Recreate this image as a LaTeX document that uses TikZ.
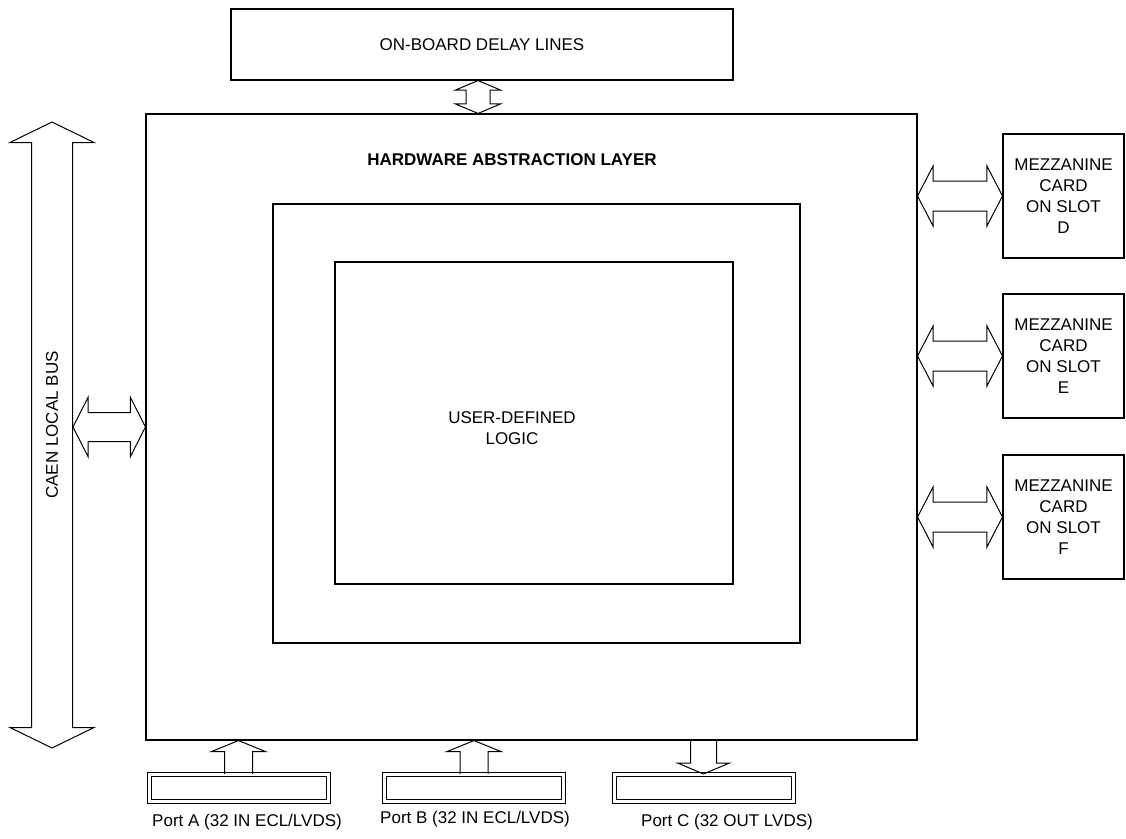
\documentclass[tikz,border=0pt]{standalone}
\usepackage{fontspec}
\setmainfont{Liberation Sans}
\usetikzlibrary{calc}
\usetikzlibrary{positioning}
\tikzset{box/.style = {draw, line width = 1.1, inner sep = 0}}
\tikzset{portbox/.style = {draw, double, double distance = 3, line width = 1,
                           inner sep = 0, minimum width = 179, minimum height = 27}}
\tikzset{txt/.style = {font = \fontsize{17}{21}\selectfont, align = center, inner sep = 0}}
\tikzset{blockarrow/.style = {draw, line width = 1, line join = miter}}
% hollow arrow with two heads: from, to, head length, half shaft, half head
\newcommand{\dblarrow}[5]{%
  \path (#1) coordinate (ap) (#2) coordinate (aq);
  \path ($(ap)!#3!(aq)$) coordinate (ap1) ($(aq)!#3!(ap)$) coordinate (aq1);
  \draw [blockarrow] (ap) -- ($(ap1)!#5!90:(aq)$) -- ($(ap1)!#4!90:(aq)$)
    -- ($(aq1)!#4!-90:(ap)$) -- ($(aq1)!#5!-90:(ap)$) -- (aq)
    -- ($(aq1)!#5!90:(ap)$) -- ($(aq1)!#4!90:(ap)$)
    -- ($(ap1)!#4!-90:(aq)$) -- ($(ap1)!#5!-90:(aq)$) -- cycle;}
% hollow arrow with one head
\newcommand{\sglarrow}[5]{%
  \path (#1) coordinate (ap) (#2) coordinate (aq);
  \path ($(aq)!#3!(ap)$) coordinate (aq1);
  \draw [blockarrow] ($(ap)!#4!90:(aq)$) -- ($(aq1)!#4!-90:(ap)$)
    -- ($(aq1)!#5!-90:(ap)$) -- (aq) -- ($(aq1)!#5!90:(ap)$)
    -- ($(aq1)!#4!90:(ap)$) -- ($(ap)!#4!-90:(aq)$);}

\begin{document}
\begin{tikzpicture}[x = 1pt, y = -1pt]
    \useasboundingbox (0, 0) rectangle (1126, 838);
    % boxes
    \node (delay) at (482, 44.5) [box, minimum width = 502, minimum height = 71] {};
    \node (delaytext) at (delay.center) [txt] {ON-BOARD DELAY LINES};
    \node (hal) at (531.5, 427) [box, minimum width = 771, minimum height = 626] {};
    \node (haltext) at (512, 160) [txt, font = \fontsize{17}{21}\selectfont\bfseries] {HARDWARE ABSTRACTION LAYER};
    \node (mid) at (536.5, 423.5) [box, minimum width = 527, minimum height = 439] {};
    \node (user) at (534, 423) [box, minimum width = 398, minimum height = 322] {};
    \node (usertext) at (512, 428) [txt] {USER-DEFINED\\LOGIC};
    \node (mezzD) at (1063.5, 196) [box, txt, draw, minimum width = 121, minimum height = 124] {MEZZANINE\\CARD\\ON SLOT\\D};
    \node (mezzE) at (1063.5, 356) [box, txt, draw, minimum width = 121, minimum height = 124] {MEZZANINE\\CARD\\ON SLOT\\E};
    \node (mezzF) at (1063.5, 517) [box, txt, draw, minimum width = 121, minimum height = 124] {MEZZANINE\\CARD\\ON SLOT\\F};
    % ports
    \node (portA) at (238.5, 788) [portbox] {};
    \node (portB) at (474, 788) [portbox] {};
    \node (portC) at (703.5, 788) [portbox] {};
    \node (portAtext) at (247, 822) [txt] {Port A (32 IN ECL/LVDS)};
    \node (portBtext) at (475, 819) [txt] {Port B (32 IN ECL/LVDS)};
    \node (portCtext) at (727, 822) [txt] {Port C (32 OUT LVDS)};
    % local bus
    \coordinate (bustop) at (52, 122);
    \coordinate (busbot) at (52, 748);
    \dblarrow{bustop}{busbot}{20.5pt}{20.5pt}{42pt}
    \node (bustext) at (52, 425) [txt, rotate = 90] {CAEN LOCAL BUS};
    \dblarrow{73, 427}{hal.west}{15pt}{14.5pt}{29.5pt}
    % delay lines
    \coordinate (dx) at (478, 0);
    \dblarrow{dx |- delay.south}{dx |- hal.north}{9.5pt}{12pt}{22.5pt}
    % mezzanine cards
    \dblarrow{hal.east |- mezzD.west}{mezzD.west}{15.5pt}{15pt}{30pt}
    \dblarrow{hal.east |- mezzE.west}{mezzE.west}{15.5pt}{15pt}{30pt}
    \dblarrow{hal.east |- mezzF.west}{mezzF.west}{15.5pt}{15pt}{30pt}
    % ports
    \sglarrow{portA.north}{portA.north |- hal.south}{11pt}{14pt}{27pt}
    \sglarrow{portB.north}{portB.north |- hal.south}{11pt}{14pt}{27pt}
    \sglarrow{portC.north |- hal.south}{portC.north}{11pt}{13pt}{26pt}
  \end{tikzpicture}
\end{document}
